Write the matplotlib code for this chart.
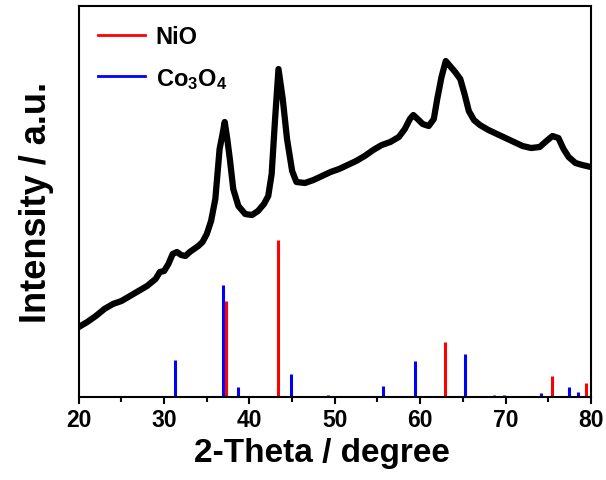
import matplotlib
matplotlib.use("Agg")
import matplotlib.pyplot as plt
from matplotlib.lines import Line2D
from matplotlib.ticker import MultipleLocator

plt.rcParams['font.family'] = ['Liberation Sans', 'DejaVu Sans']
plt.rcParams['font.weight'] = 'bold'
plt.rcParams['mathtext.default'] = 'regular'

# measured pattern (2-theta, intensity in arbitrary units)
two_theta = [20.0, 21.0, 22.0, 23.0, 24.0, 25.0, 26.0, 27.0, 28.0, 29.0,
             29.5, 30.0, 30.5, 31.0, 31.5, 32.0, 32.5, 33.0, 33.5, 34.0,
             34.5, 35.0, 35.5, 36.0, 36.5, 36.8, 37.1, 37.4, 37.7, 38.1,
             38.7, 39.5, 40.3, 41.0, 41.7, 42.2, 42.6, 43.0, 43.4, 43.9,
             44.4, 45.0, 45.5, 46.5, 47.5, 48.5, 49.5, 50.5, 51.5, 52.5,
             53.5, 54.5, 55.5, 56.5, 57.5, 58.2, 58.8, 59.2, 59.7, 60.3,
             61.0, 61.6, 62.0, 62.5, 63.0, 63.5, 64.1, 64.7, 65.2, 65.7,
             66.3, 67.0, 68.0, 69.0, 70.0, 71.0, 72.0, 73.0, 74.0, 74.8,
             75.5, 76.2, 76.8, 77.4, 78.2, 79.0, 80.0]
intensity = [70, 75, 81, 88, 93, 96, 101, 106, 111, 118,
             125, 126, 133, 143, 145, 142, 141, 145, 148, 151,
             155, 163, 176, 198, 248, 261, 275, 258, 238, 208,
             191, 183, 182, 186, 193, 201, 223, 278, 328, 298,
             258, 226, 215, 214, 217, 221, 225, 228, 232, 236,
             241, 247, 252, 255, 260, 268, 278, 282, 278, 273,
             271, 278, 298, 320, 336, 331, 325, 318, 303, 286,
             277, 272, 267, 263, 259, 255, 251, 249, 250, 256,
             261, 259, 248, 240, 234, 232, 230]

# reference lines
nio_pos = [37.3, 43.3, 62.9, 75.45, 79.4]
nio_int = [96, 157, 55, 21, 14]
co3o4_pos = [31.25, 36.88, 38.6, 44.85, 49.15, 55.7, 59.4, 65.3,
             68.7, 69.8, 74.2, 77.4, 78.45]
co3o4_int = [37, 112, 10, 23, 1.5, 11, 36, 43, 2, 2, 4, 10, 5]

fig = plt.figure(figsize=(6.06, 4.81), dpi=100)
ax = fig.add_axes([0.130, 0.1726, 0.845, 0.8128])

ax.plot(two_theta, intensity, color='black', lw=4.5, solid_joinstyle='round')
ax.vlines(co3o4_pos, 0, co3o4_int, color='#0000ff', lw=2.2)
ax.vlines(nio_pos, 0, nio_int, color='#ff0000', lw=2.2)

ax.set_xlim(20, 80)
ax.set_ylim(0, 391)
ax.xaxis.set_major_locator(MultipleLocator(10))
ax.xaxis.set_minor_locator(MultipleLocator(5))
ax.tick_params(axis='x', which='major', direction='out', length=5, width=1.5,
               labelsize=16.5, pad=3)
ax.tick_params(axis='x', which='minor', direction='out', length=3.5, width=1.5)
ax.set_yticks([])
for s in ax.spines.values():
    s.set_linewidth(1.5)

ax.set_xlabel('2-Theta / degree', fontsize=24, fontweight='bold', labelpad=4)
ax.xaxis.label.set_x(0.475)
ax.set_ylabel('Intensity / a.u.', fontsize=26, fontweight='bold', labelpad=18)

handles = [Line2D([], [], color='#ff0000', lw=2),
           Line2D([], [], color='#0000ff', lw=2)]
ax.legend(handles, ['NiO', 'Co$_3$O$_4$'], loc='upper left', frameon=False,
          fontsize=17, handlelength=2.0, handletextpad=0.45, labelspacing=0.75,
          borderaxespad=0.4)

fig.savefig('out.png', dpi=100)
